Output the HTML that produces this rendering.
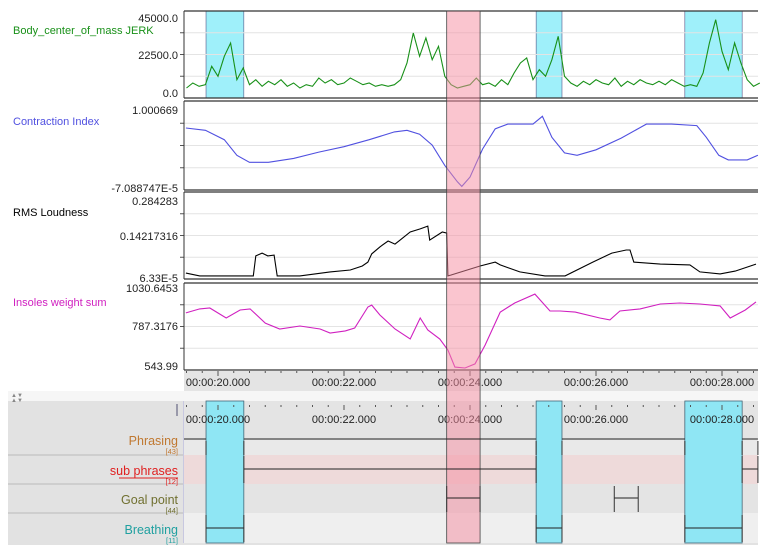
<!DOCTYPE html>
<html><head><meta charset="utf-8">
<style>
body{margin:0;background:#fff;width:767px;height:554px;overflow:hidden;font-family:"Liberation Sans",sans-serif;}
svg text{font-family:"Liberation Sans",sans-serif;}
</style></head>
<body>
<svg id="chart" width="767" height="554" xmlns="http://www.w3.org/2000/svg">
  <rect x="8" y="0" width="176" height="390" fill="#fff"/>
  <rect x="8" y="393" width="750" height="152" fill="#e2e2e2"/>
  <rect x="8" y="391" width="750" height="10" fill="#f6f6f6"/>
  <text x="11" y="397" font-size="6" fill="#888">▲▼</text>
  <text x="11" y="402" font-size="6" fill="#888">▲▼</text>
  <rect x="184" y="401" width="574" height="39" fill="#e4e4e4"/>
  <rect x="184" y="440" width="574" height="15" fill="#e9e9e9"/>
  <rect x="184" y="455" width="574" height="29" fill="#eedada"/>
  <rect x="184" y="484" width="574" height="29" fill="#e4e4e4"/>
  <rect x="184" y="513" width="574" height="30" fill="#efefef"/>
  <line x1="8" y1="455" x2="183" y2="455" stroke="#bbb"/>
  <line x1="8" y1="484" x2="183" y2="484" stroke="#bbb"/>
  <line x1="8" y1="513" x2="183" y2="513" stroke="#bbb"/>
  <line x1="183.5" y1="401" x2="183.5" y2="543" stroke="#c8c8e0"/>
  <rect x="176" y="404" width="2" height="12" fill="#99a"/>
  <rect x="184" y="371" width="574" height="20" fill="#e4e4e4"/>
  <g id="panels"></g>
  <g id="lower"></g>
</svg>
<script>
// ---- data ----
const jerkStart = 19.5, jerkStep = 0.1;
const jerkValues = [3,6,4,5,16,10,22,30,8,15,5,8,4,7,5,8,4,6,3,5,4,9,6,8,5,6,9,7,5,6,4,5,4,5,8,18,36,22,33,20,28,10,5,3,4,5,9,5,6,4,8,5,12,18,21,8,14,10,20,34,10,6,4,7,5,8,6,5,9,4,7,5,8,6,5,7,5,8,6,4,5,4,12,30,44,25,14,30,18,8,4,6];
const ciTimes = [19.49,19.8,20.1,20.3,20.5,20.8,21.2,21.6,22.0,22.4,22.8,23.0,23.2,23.4,23.6,23.8,23.87,24.0,24.2,24.4,24.6,24.8,25.0,25.15,25.3,25.5,25.7,26.0,26.4,26.8,27.2,27.6,27.75,27.95,28.1,28.4,28.57];
const ciValues = [0.77,0.74,0.62,0.42,0.33,0.33,0.38,0.46,0.53,0.62,0.72,0.74,0.69,0.55,0.29,0.08,0.02,0.14,0.50,0.76,0.82,0.82,0.82,0.92,0.65,0.45,0.42,0.49,0.64,0.82,0.82,0.80,0.65,0.42,0.36,0.36,0.42];
const rmsTimes = [19.49,19.71,20.56,20.60,20.70,20.79,20.89,20.94,21.30,21.78,22.10,22.29,22.38,22.44,22.57,22.70,22.81,22.89,23.05,23.21,23.33,23.36,23.56,23.63,23.65,23.70,24.16,24.40,24.48,24.79,25.19,25.51,25.95,26.25,26.48,26.54,26.60,27.02,27.49,27.65,27.97,28.21,28.54];
const rmsValues = [0.014,0.004,0.004,0.075,0.085,0.075,0.078,0.004,0.004,0.018,0.025,0.039,0.053,0.082,0.107,0.128,0.117,0.131,0.160,0.171,0.181,0.131,0.160,0.156,0.004,0.007,0.039,0.053,0.043,0.018,0.004,0.004,0.053,0.085,0.096,0.096,0.053,0.046,0.043,0.018,0.011,0.021,0.046];
const insTimes = [19.49,19.71,19.87,20.13,20.35,20.51,20.75,20.98,21.30,21.62,21.78,22.02,22.17,22.38,22.44,22.57,22.81,23.05,23.21,23.33,23.52,23.65,23.76,23.92,24.08,24.24,24.48,24.71,25.03,25.27,25.43,25.67,26.06,26.22,26.38,26.70,27.02,27.33,27.65,27.97,28.13,28.37,28.54];
const insValues = [865,888,893,836,882,888,807,773,790,773,750,762,779,899,910,853,773,716,836,767,716,653,555,550,573,681,870,922,973,876,876,870,836,825,876,888,916,922,916,905,836,882,928];
const tickLabels = ["00:00:20.000","00:00:22.000","00:00:24.000","00:00:26.000","00:00:28.000"];
const tickTimes = [20,22,24,26,28];
const cyanSpans = [[19.81,20.41],[25.05,25.46],[27.41,28.32]];
const pinkSpan = [23.63,24.16];
const phrasingSpans = [[19.46,19.81],[20.41,25.05],[25.46,27.41],[28.32,28.57]];
const subSpans = [[20.41,25.05],[28.32,28.57]];
const goalSpans = [[23.63,24.16],[26.29,26.67]];
const breathSpans = [[19.81,20.41],[25.05,25.46],[27.41,28.32]];

// ---- axes ----
const X0 = 184, X1 = 758;
const xOf = t => 218 + (t - 20) * 63;
const NS = "http://www.w3.org/2000/svg";
const svg = document.getElementById('chart');
const panels = document.getElementById('panels');
const lower = document.getElementById('lower');
function mk(tag, attrs, parent) {
  const e = document.createElementNS(NS, tag);
  for (const k in attrs) e.setAttribute(k, attrs[k]);
  (parent || panels).appendChild(e);
  return e;
}
cyanSpans.forEach(s => {
  const r = mk('rect', {x: xOf(s[0]), y: 11, width: xOf(s[1]) - xOf(s[0]), height: 87, fill: '#9ff0fa', stroke: '#558', 'stroke-width': 0.6});
  
  
  const r2 = mk('rect', {x: xOf(s[0]), y: 401, width: xOf(s[1]) - xOf(s[0]), height: 142, fill: '#8fe6f4', stroke: '#467', 'stroke-width': 0.8}, lower);
  
  
});

const panelDefs = [
  {name: 'jerk', top: 11, bot: 98, vTop: 45000, vBot: 0, yTop: 18, yBot: 93, label: 'Body_center_of_mass JERK', color: '#189018', ticks: [['45000.0', 18], ['22500.0', 55], ['0.0', 93]], labelY: 34},
  {name: 'contraction', top: 101, bot: 190, vTop: 1.000669, vBot: 0, yTop: 110, yBot: 188, label: 'Contraction Index', color: '#5050e0', ticks: [['1.000669', 110], ['-7.088747E-5', 188]], labelY: 125},
  {name: 'rms', top: 192, bot: 279, vTop: 0.284283, vBot: 0, yTop: 197, yBot: 277, label: 'RMS Loudness', color: '#000', ticks: [['0.284283', 201], ['0.14217316', 236], ['6.33E-5', 278]], labelY: 216},
  {name: 'insoles', top: 283, bot: 370, vTop: 1030.6453, vBot: 543.99, yTop: 284, yBot: 369, label: 'Insoles weight sum', color: '#d020c0', ticks: [['1030.6453', 288], ['787.3176', 326], ['543.99', 366]], labelY: 306}
];
panelDefs.forEach(p => {
  const g = mk('g', {});
  
  
  for (let i = 1; i < 4; i++) {
    const gy = p.top + (p.bot - p.top) * i / 4;
    mk('line', {x1: X0, x2: X1, y1: gy, y2: gy, stroke: '#e4e4e4'}, g);
    mk('line', {x1: X0 - 4, x2: X0, y1: gy, y2: gy, stroke: '#555'}, g);
  }
  mk('line', {x1: X0, x2: X1, y1: p.top, y2: p.top, stroke: '#333', 'stroke-width': 1.3}, g);
  mk('line', {x1: X0, x2: X1, y1: p.bot, y2: p.bot, stroke: '#333', 'stroke-width': 1.3}, g);
  mk('line', {x1: X0, x2: X0, y1: p.top, y2: p.bot, stroke: '#333'}, g);
  const t = mk('text', {x: 13, y: p.labelY, 'font-size': 11, fill: p.color}, g);
  t.textContent = p.label;
  
  
  p.ticks.forEach(tk => {
    const tt = mk('text', {x: 178, y: tk[1] + 4, 'font-size': 11, fill: '#222', 'text-anchor': 'end'}, g);
    tt.textContent = tk[0];
    
    
  });
  p.g = g;
  p.yOf = v => p.yBot - (v - p.vBot) / (p.vTop - p.vBot) * (p.yBot - p.yTop);
});
function series(p, times, vals, name) {
  const pts = times.map((t, i) => xOf(t).toFixed(1) + ',' + p.yOf(vals[i]).toFixed(1)).join(' ');
  const l = mk('polyline', {points: pts, fill: 'none', stroke: p.color, 'stroke-width': 1.1}, p.g);
  
  
}
series(panelDefs[0], jerkValues.map((v, i) => jerkStart + i * jerkStep), jerkValues.map(v => v * 1000), 'jerk-line');
series(panelDefs[1], ciTimes, ciValues, 'contraction-line');
series(panelDefs[2], rmsTimes, rmsValues, 'rms-line');
series(panelDefs[3], insTimes, insValues, 'insoles-line');

function axis(yTicks, yLabel, name) {
  const g = mk('g', {}, lower);
  
  
  for (let t = 19.5; t <= 28.57; t += 0.25) {
    const major = Math.abs(t - Math.round(t)) < 0.01 && Math.round(t) % 2 === 0;
    mk('line', {x1: xOf(t), x2: xOf(t), y1: yTicks, y2: yTicks + (major ? 5 : 2), stroke: '#555'}, g);
  }
  tickTimes.forEach((t, i) => {
    const tx = mk('text', {x: xOf(t), y: yLabel, 'font-size': 11, fill: '#222', 'text-anchor': 'middle'}, g);
    tx.textContent = tickLabels[i];
    
    
  });
}
axis(371, 386, 'top-time-axis');
axis(405, 423, 'annotation-time-axis');

const pk = mk('rect', {x: xOf(pinkSpan[0]), y: 11, width: xOf(pinkSpan[1]) - xOf(pinkSpan[0]), height: 532, fill: 'rgba(245,140,160,0.5)', stroke: '#444', 'stroke-width': 0.8}, lower);



const tiers = [
  {label: 'Phrasing', count: '[43]', color: '#c07830', y: 439, top: 441, bot: 455, spans: phrasingSpans, ty: 445},
  {label: 'sub phrases', count: '[12]', color: '#e02020', y: 469, top: 456, bot: 483, spans: subSpans, ty: 475, ul: true},
  {label: 'Goal point', count: '[44]', color: '#707030', y: 498, top: 486, bot: 512, spans: goalSpans, ty: 504},
  {label: 'Breathing', count: '[11]', color: '#20a0a0', y: 528, top: 515, bot: 542, spans: breathSpans, ty: 534}
];
tiers.forEach(tr => {
  const g = mk('g', {}, lower);
  
  
  const t = mk('text', {x: 178, y: tr.ty, 'font-size': 12.5, fill: tr.color, 'text-anchor': 'end'}, g);
  t.textContent = tr.label;
  
  
  if (tr.ul) mk('line', {x1: 119, x2: 178, y1: tr.ty + 3, y2: tr.ty + 3, stroke: tr.color}, g);
  const c = mk('text', {x: 178, y: tr.ty + 9, 'font-size': 7.5, fill: tr.color, 'text-anchor': 'end'}, g);
  c.textContent = tr.count;
  tr.spans.forEach(s => {
    const a = mk('line', {x1: xOf(s[0]), x2: xOf(s[1]), y1: tr.y, y2: tr.y, stroke: '#222'}, g);
    
    
    [s[0], s[1]].forEach(b => { if (xOf(b) > X0 && xOf(b) < X1) mk('line', {x1: xOf(b), x2: xOf(b), y1: tr.top, y2: tr.bot, stroke: '#333'}, g); });
  });
});
</script>
</body></html>
